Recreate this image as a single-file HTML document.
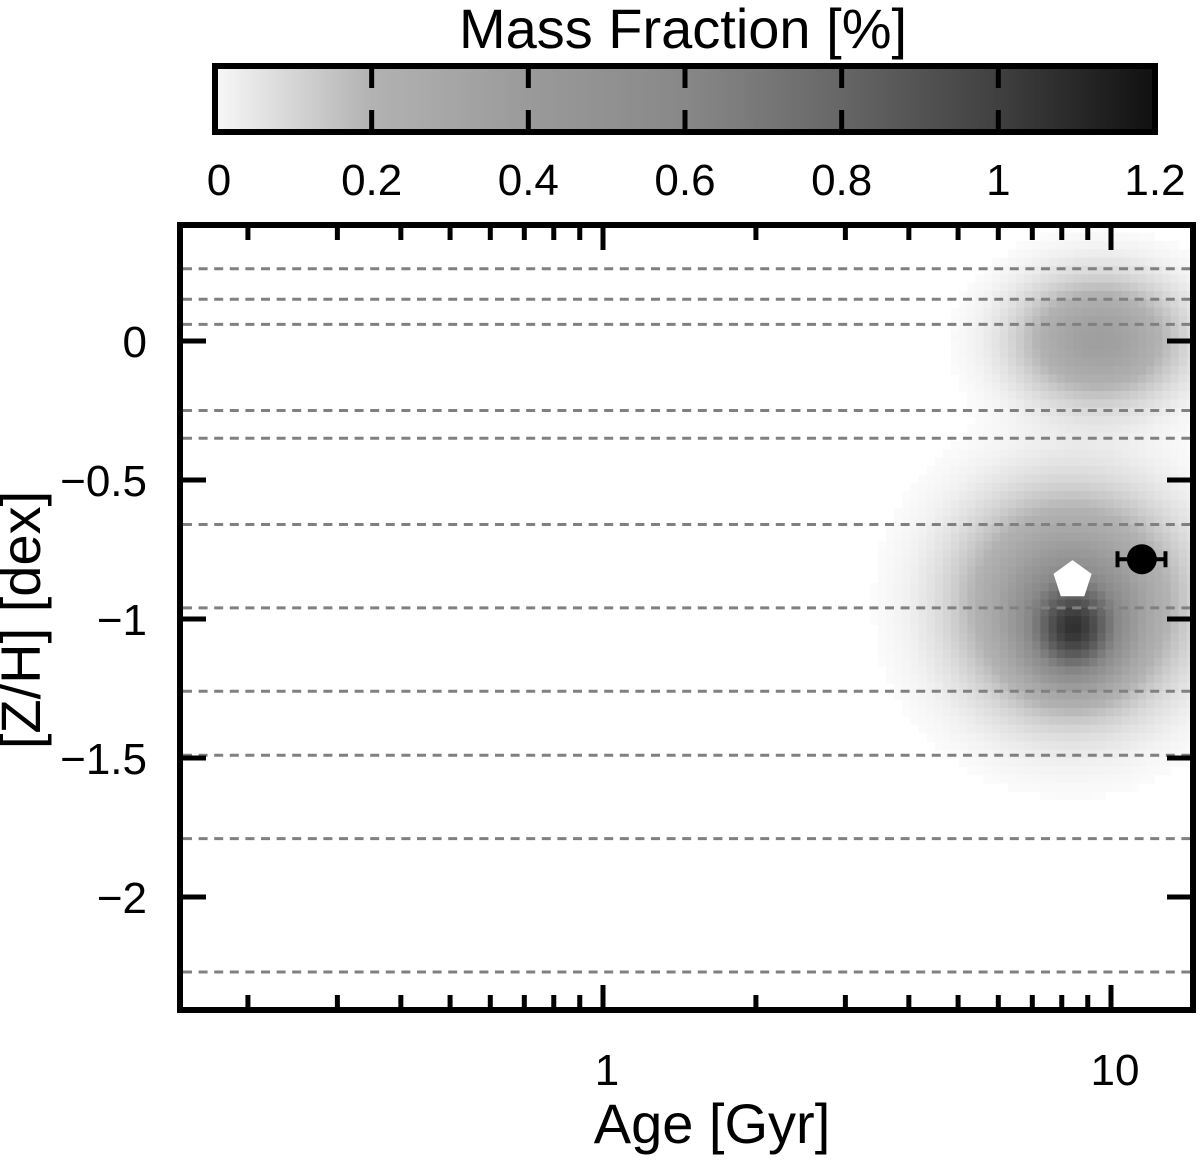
<!DOCTYPE html>
<html><head><meta charset="utf-8"><style>
html,body{margin:0;padding:0;background:#fff;}
svg{display:block;font-family:"Liberation Sans",sans-serif;}
</style></head><body>
<svg id="chart" width="1200" height="1166" viewBox="0 0 1200 1166">
<defs><linearGradient id="cbg" x1="0" x2="1" y1="0" y2="0">
<stop offset="0" stop-color="#f8f8f8"/><stop offset="0.167" stop-color="#b2b2b2"/><stop offset="0.333" stop-color="#9a9a9a"/><stop offset="0.5" stop-color="#888"/><stop offset="0.667" stop-color="#666"/><stop offset="0.833" stop-color="#404040"/><stop offset="1" stop-color="#101010"/></linearGradient>
<clipPath id="pc"><rect x="183" y="228" width="1007" height="779"/></clipPath></defs>
<g id="heat" clip-path="url(#pc)"></g>
<g id="grid"></g>
<g id="marks"></g>
<rect x="180" y="225" width="1013" height="785" fill="none" stroke="#000" stroke-width="6"/>
<g id="ticks"></g>
<g id="cbar">
<rect x="215" y="66" width="940" height="66" fill="url(#cbg)" stroke="#000" stroke-width="6"/>
</g>
<text x="683" y="48" font-size="56" text-anchor="middle">Mass Fraction [%]</text>
<text x="712" y="1143" font-size="56" text-anchor="middle">Age [Gyr]</text>
<text transform="translate(40,620) rotate(-90)" font-size="56" text-anchor="middle">[Z/H] [dex]</text>
</svg>
<script>
const metallicities=[0.26,0.15,0.06,-0.25,-0.35,-0.66,-0.96,-1.26,-1.49,-1.79,-2.27];
const yTicks=[0,-0.5,-1,-1.5,-2];
const yTickLabels=["0","\u22120.5","\u22121","\u22121.5","\u22122"];
const xMajor=[1,10];
const xMajorLabels=["1","10"];
const xMinor=[0.2,0.3,0.4,0.5,0.6,0.7,0.8,0.9,2,3,4,5,6,7,8,9];
const cbTicks=[0,0.2,0.4,0.6,0.8,1,1.2];
const cbLabels=["0","0.2","0.4","0.6","0.8","1","1.2"];
// heatmap components: centre age (Gyr), centre [Z/H], amplitude (%), sigma log-age, sigma Z
const blobAge=[9.3,8.2,8.3];
const blobZ=[0.02,-0.93,-1.03];
const blobAmp=[0.36,0.5,0.6];
const blobSigLogAge=[0.11,0.14,0.06];
const blobSigZ=[0.15,0.25,0.12];
const ssp={age:8.4,z:-0.86};
const obs={age:11.5,z:-0.785,ageLo:10.3,ageHi:12.8};

const cmapV=[0,0.2,0.4,0.6,0.8,1.0,1.2];
const cmapG=[252,178,154,136,102,64,16];
function gray(v){v=Math.min(1.2,Math.max(0,v));for(let i=1;i<cmapV.length;i++){if(v<=cmapV[i]){const t=(v-cmapV[i-1])/(cmapV[i]-cmapV[i-1]);return Math.round(cmapG[i-1]+t*(cmapG[i]-cmapG[i-1]));}}return cmapG[cmapG.length-1];}

const NS="http://www.w3.org/2000/svg";
const X=a=>603+508*Math.log10(a);
const Y=z=>341-278*z;
const CB=v=>215+v*(940/1.2);
function mk(p,t,at){const e=document.createElementNS(NS,t);for(const k in at)e.setAttribute(k,at[k]);p.appendChild(e);return e;}
const heat=document.getElementById('heat'),grid=document.getElementById('grid'),marks=document.getElementById('marks'),ticks=document.getElementById('ticks'),cbar=document.getElementById('cbar');
const svg=document.getElementById('chart');

const step=0.016, zstep=0.03;
for(let la=Math.log10(3);la<1.2;la+=step){
 for(let z=0.45;z>-2.45;z-=zstep){
  let v=0;
  for(let i=0;i<blobAge.length;i++){
   const dx=(la-Math.log10(blobAge[i]))/blobSigLogAge[i],dz=(z-blobZ[i])/blobSigZ[i];
   v+=blobAmp[i]*Math.exp(-0.5*(dx*dx+dz*dz));
  }
  if(v<0.01)continue;
  let g=gray(v);
  if(v<0.05)g=Math.round(255-(255-gray(0.05))*v/0.05);
  const x0=X(Math.pow(10,la)),x1=X(Math.pow(10,la+step));
  const c=mk(heat,'rect',{x:x0.toFixed(1),y:Y(z).toFixed(1),width:(x1-x0+0.6).toFixed(1),height:(278*zstep+0.6).toFixed(1),fill:`rgb(${g},${g},${g})`});
  
  
 }
}
metallicities.forEach(m=>{
 const l=mk(grid,'line',{x1:183,x2:1190,y1:Y(m),y2:Y(m),stroke:'#808080','stroke-width':3,'stroke-dasharray':'9 6.6'});
 
 
});
yTicks.forEach((t,i)=>{
 const y=Y(t);
 const a=mk(ticks,'line',{x1:183,x2:206,y1:y,y2:y,stroke:'#000','stroke-width':5});
 
 
 const b=mk(ticks,'line',{x1:1167,x2:1190,y1:y,y2:y,stroke:'#000','stroke-width':5});
 
 
 const tx=mk(svg,'text',{x:147,y:y+16,'font-size':44,'text-anchor':'end'});tx.textContent=yTickLabels[i];
 
 
});
xMajor.forEach((t,i)=>{
 const x=X(t);
 const a=mk(ticks,'line',{x1:x,x2:x,y1:1008,y2:985,stroke:'#000','stroke-width':5});
 
 
 const b=mk(ticks,'line',{x1:x,x2:x,y1:227,y2:250,stroke:'#000','stroke-width':5});
 
 
 const tx=mk(svg,'text',{x:x+4,y:1085,'font-size':44,'text-anchor':'middle'});tx.textContent=xMajorLabels[i];
 
 
});
xMinor.forEach(t=>{
 const x=X(t);
 const a=mk(ticks,'line',{x1:x,x2:x,y1:1008,y2:995,stroke:'#000','stroke-width':5});
 
 
 const b=mk(ticks,'line',{x1:x,x2:x,y1:227,y2:240,stroke:'#000','stroke-width':5});
 
 
});
cbTicks.forEach((t,i)=>{
 const x=CB(t);
 if(i>0&&i<cbTicks.length-1){
  const a=mk(cbar,'line',{x1:x,x2:x,y1:66,y2:88,stroke:'#000','stroke-width':5});
  
  
  const b=mk(cbar,'line',{x1:x,x2:x,y1:110,y2:132,stroke:'#000','stroke-width':5});
  
  
 }
 const tx=mk(svg,'text',{x:i==0?x+4:x,y:195,'font-size':44,'text-anchor':'middle'});tx.textContent=cbLabels[i];
 
 
});
(function(){
 const cx=X(ssp.age),cy=Y(ssp.z),r=20;let pts=[];
 for(let k=0;k<5;k++){const a=-Math.PI/2+k*2*Math.PI/5;pts.push((cx+r*Math.cos(a)).toFixed(1)+','+(cy+r*Math.sin(a)).toFixed(1));}
 const p=mk(marks,'polygon',{points:pts.join(' '),fill:'#fff'});
 
 
})();
(function(){
 const y=Y(obs.z),x0=X(obs.ageLo),x1=X(obs.ageHi);
 const e=mk(marks,'path',{d:`M${x0},${y}H${x1}M${x0},${y-8}V${y+8}M${x1},${y-8}V${y+8}`,stroke:'#000','stroke-width':4,fill:'none'});
 
 
 const c=mk(marks,'circle',{cx:X(obs.age),cy:y,r:15,fill:'#000'});
 
 
})();
</script>
</body></html>
